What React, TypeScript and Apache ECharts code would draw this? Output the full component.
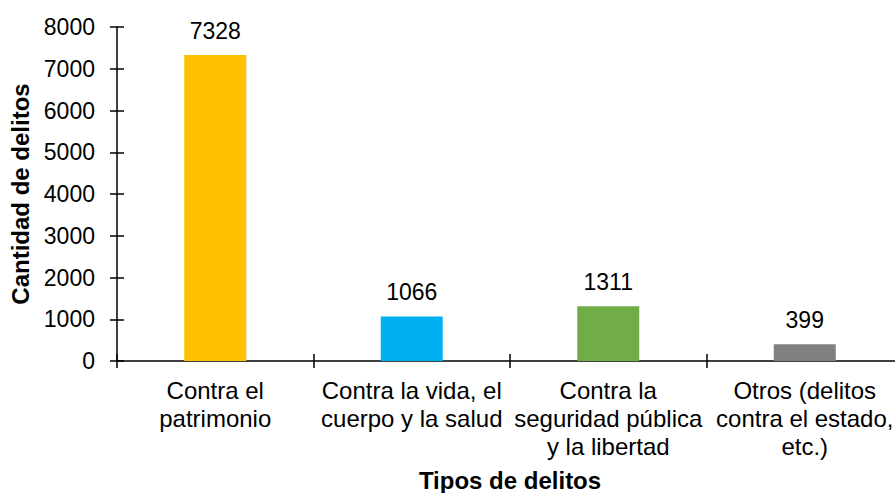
import React, { useEffect, useRef } from "react";
import * as echarts from "echarts";

const categories = [
  "Contra el\npatrimonio",
  "Contra la vida, el\ncuerpo y la salud",
  "Contra la\nseguridad pública\ny la libertad",
  "Otros (delitos\ncontra el estado,\netc.)",
];
const values = [7328, 1066, 1311, 399];
const barColors = ["#FFC000", "#00B0F0", "#70AD47", "#808080"];
const yTitle = "Cantidad de delitos";
const xTitle = "Tipos de delitos";

const FONT = "'Liberation Sans', Arial, Helvetica, sans-serif";

export default function App() {
  const ref = useRef<HTMLDivElement>(null);
  useEffect(() => {
    if (!ref.current) return;
    const chart = echarts.init(ref.current, undefined, { renderer: "svg" });
    const yCommon = {
      type: "value" as const,
      min: 0,
      max: 8000,
      interval: 1000,
      splitLine: { show: false },
    };
    chart.setOption({
      animation: false,
      backgroundColor: "#ffffff",
      textStyle: { fontFamily: FONT },
      grid: {
        left: 117,
        top: 27,
        right: -8,
        bottom: 132,
        containLabel: false,
        outerBoundsMode: "none",
      },
      xAxis: [
        {
          type: "category",
          data: categories,
          position: "bottom",
          axisLine: { show: true, lineStyle: { color: "#000", width: 1.5 } },
          axisTick: { show: true, inside: false, length: 7, lineStyle: { color: "#000", width: 1.5 } },
          axisLabel: {
            color: "#000",
            fontSize: 24,
            fontFamily: FONT,
            lineHeight: 28,
            margin: 15,
            interval: 0,
          },
          name: xTitle,
          nameLocation: "middle",
          nameGap: 106,
          nameTextStyle: { color: "#000", fontSize: 24, fontWeight: "bold", fontFamily: FONT, lineHeight: 26 },
        },
        {
          type: "category",
          data: categories,
          position: "bottom",
          axisLine: { show: false },
          axisTick: { show: true, inside: true, length: 7, lineStyle: { color: "#000", width: 1.5 } },
          axisLabel: { show: false },
        },
      ],
      yAxis: [
        {
          ...yCommon,
          position: "left",
          axisLine: { show: true, lineStyle: { color: "#000", width: 1.5 } },
          axisTick: { show: true, inside: false, length: 7, lineStyle: { color: "#000", width: 1.5 } },
          axisLabel: {
            color: "#000",
            fontSize: 23,
            fontFamily: FONT,
            margin: 22,
            formatter: (v: number) => String(v),
          },
          name: yTitle,
          nameLocation: "middle",
          nameGap: 84,
          nameRotate: 90,
          nameTextStyle: { color: "#000", fontSize: 24, fontWeight: "bold", fontFamily: FONT },
        },
        {
          ...yCommon,
          position: "left",
          axisLine: { show: false },
          axisTick: { show: true, inside: true, length: 7, lineStyle: { color: "#000", width: 1.5 } },
          axisLabel: { show: false },
        },
      ],
      series: [
        {
          type: "bar",
          xAxisIndex: 0,
          yAxisIndex: 0,
          barWidth: 62,
          data: values.map((v, i) => ({ value: v, itemStyle: { color: barColors[i] } })),
          label: {
            show: true,
            position: "top",
            distance: 13,
            color: "#000",
            fontSize: 23,
            fontFamily: FONT,
          },
        },
      ],
    });
    return () => chart.dispose();
  }, []);
  return (
    <div
      ref={ref}
      style={{ position: "absolute", left: 0, top: 0, width: 895, height: 493 }}
    />
  );
}
